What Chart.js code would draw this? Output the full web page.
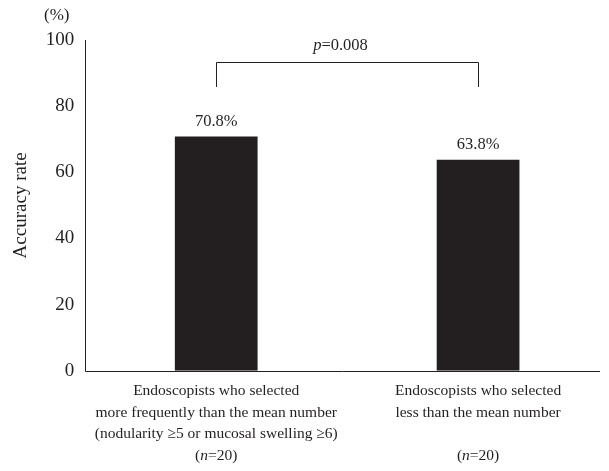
<!DOCTYPE html>
<html lang="en">
<head>
    <meta charset="UTF-8">
    <title>Accuracy rate by endoscopist group</title>
    <script src="https://cdn.jsdelivr.net/npm/chart.js"></script>
    <style>
        html, body { margin: 0; padding: 0; background: #fff; }
        canvas { display: block; }
    </style>
</head>
<body>
    <canvas id="barChart" width="609" height="471"></canvas>

    <script>
        // Data
        const categories = [
            ['Endoscopists who selected', 'more frequently than the mean number', '(nodularity \u22655 or mucosal swelling \u22656)', ''],
            ['Endoscopists who selected', 'less than the mean number', '', '']
        ];
        const groupSizes = ['20', '20'];
        const accuracy = [70.8, 63.8];
        const valueLabels = ['70.8%', '63.8%'];
        const yTicks = [0, 20, 40, 60, 80, 100];
        const pValue = '0.008';

        const ink = '#231f20';
        const serif = '"Liberation Serif", "DejaVu Serif", serif';

        // Draws value labels, the p-value bracket, the (%) unit and the (n=..) lines
        const annotations = {
            id: 'annotations',
            afterDraw(chart) {
                const { ctx, scales: { x, y }, chartArea } = chart;
                ctx.save();
                ctx.fillStyle = ink;
                ctx.strokeStyle = ink;

                // x axis line runs a bit short of the right edge
                ctx.lineWidth = 1;
                ctx.beginPath();
                ctx.moveTo(chartArea.left, Math.round(chartArea.bottom) + 0.5);
                ctx.lineTo(600, Math.round(chartArea.bottom) + 0.5);
                ctx.stroke();

                // value labels above the bars
                ctx.font = '16.5px ' + serif;
                ctx.textAlign = 'center';
                ctx.textBaseline = 'alphabetic';
                accuracy.forEach((v, i) => {
                    ctx.fillText(valueLabels[i], x.getPixelForValue(i), y.getPixelForValue(v) - 11);
                });

                // bracket
                const x0 = Math.round(x.getPixelForValue(0)) + 0.5;
                const x1 = Math.round(x.getPixelForValue(1)) + 0.5;
                const yTop = Math.round(y.getPixelForValue(93.3)) + 0.5;
                const yBot = y.getPixelForValue(85.8);
                ctx.beginPath();
                ctx.moveTo(x0, yBot);
                ctx.lineTo(x0, yTop);
                ctx.lineTo(x1, yTop);
                ctx.lineTo(x1, yBot);
                ctx.stroke();

                // p-value text, italic p
                const pText = '=' + pValue;
                ctx.font = 'italic 16.5px ' + serif;
                const wP = ctx.measureText('p').width;
                ctx.font = '16.5px ' + serif;
                const wRest = ctx.measureText(pText).width;
                const cx = (x0 + x1) / 2 - 7;
                const startX = cx - (wP + wRest) / 2;
                ctx.textAlign = 'left';
                ctx.font = 'italic 16.5px ' + serif;
                ctx.fillText('p', startX, 50);
                ctx.font = '16.5px ' + serif;
                ctx.fillText(pText, startX + wP, 50);

                // (n=20) lines under categories, italic n
                const nY = 460;
                groupSizes.forEach((n, i) => {
                    const px = x.getPixelForValue(i);
                    const parts = [['(', ''], ['n', 'italic '], ['=' + n + ')', '']];
                    let total = 0;
                    parts.forEach(p => { ctx.font = p[1] + '15.5px ' + serif; total += ctx.measureText(p[0]).width; });
                    let cur = px - total / 2;
                    parts.forEach(p => {
                        ctx.font = p[1] + '15.5px ' + serif;
                        ctx.fillText(p[0], cur, nY);
                        cur += ctx.measureText(p[0]).width;
                    });
                });

                // unit at the top of the y axis
                ctx.font = '17px ' + serif;
                ctx.textAlign = 'left';
                ctx.fillText('(%)', 44, 20);

                ctx.restore();
            }
        };

        const ctx = document.getElementById('barChart').getContext('2d');

        const barChart = new Chart(ctx, {
            type: 'bar',
            data: {
                labels: categories,
                datasets: [{
                    label: 'Accuracy rate',
                    data: accuracy,
                    backgroundColor: ink,
                    borderWidth: 0,
                    barPercentage: 0.316,
                    categoryPercentage: 1
                }]
            },
            options: {
                responsive: false,
                animation: false,
                layout: {
                    padding: { top: 40, right: 0, bottom: -5, left: 10 }
                },
                plugins: {
                    legend: { display: false },
                    tooltip: { enabled: false }
                },
                scales: {
                    x: {
                        grid: { display: false, drawTicks: false },
                        border: { display: false },
                        ticks: {
                            color: ink,
                            padding: 10,
                            maxRotation: 0,
                            autoSkip: false,
                            font: { family: serif, size: 15.5, lineHeight: 1.375 }
                        }
                    },
                    y: {
                        min: 0,
                        max: 100,
                        afterBuildTicks: axis => { axis.ticks = yTicks.map(v => ({ value: v })); },
                        grid: { display: false, drawTicks: false },
                        border: { display: true, color: ink, width: 1 },
                        ticks: {
                            color: ink,
                            padding: 11,
                            font: { family: serif, size: 19 }
                        },
                        title: {
                            display: true,
                            text: 'Accuracy rate',
                            color: ink,
                            padding: { top: 0, bottom: 2 },
                            font: { family: serif, size: 19 }
                        }
                    }
                }
            },
            plugins: [annotations]
        });
    </script>
</body>
</html>
